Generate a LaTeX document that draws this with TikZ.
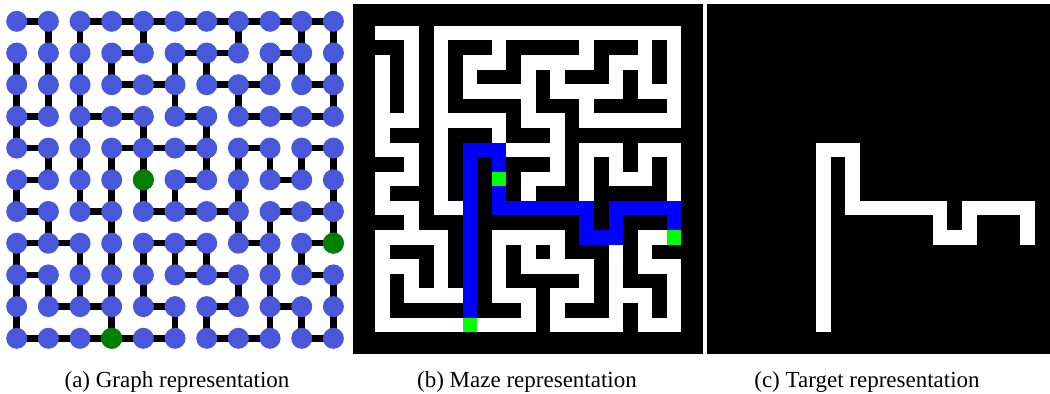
\documentclass[tikz,border=0pt]{standalone}
\usepackage{fontspec}
\setmainfont{Liberation Serif}
\usetikzlibrary{backgrounds}
\definecolor{vblue}{RGB}{73,87,219}
\definecolor{vgreen}{RGB}{0,128,0}
\definecolor{pathblue}{RGB}{0,0,255}
\definecolor{pathgreen}{RGB}{0,255,0}
\newcommand{\hlinks}{0/{0,2,3,4,5,6,7,8,9}, 1/{3,5,6,8}, 2/{3,4,6,7,9},
  3/{0,2,3,5,7,8,9}, 4/{0,3,4,5,7,9}, 5/{0,5,8}, 6/{0,2,4,5,6,8,9},
  7/{0,1,4,5,7,9}, 8/{0,5,6,9}, 9/{1,2,4,6,8}, 10/{0,1,2,3,4,6,7,9}}
\newcommand{\vlinks}{0/{1,2,4,7,9,10}, 1/{0,1,2,3,5,6,8,9,10}, 2/{0,1,2,5,7,10},
  3/{0,2,4,6}, 4/{1,2,3,4,6,7,8,9,10}, 5/{0,2,3,4,5,7,10}, 6/{1,3,7,8,10},
  7/{0,2,3,4,5,6,8,9}, 8/{0,1,2,3,4,7,8,10}, 9/{0,3,5,6,8,9,10}}
\newcommand{\route}{6/8/6/20, 6/8/8/8, 8/8/8/12, 8/12/14/12, 14/12/14/14,
  14/14/16/14, 16/12/16/14, 16/12/20/12, 20/12/20/14}

\begin{document}
\begin{tikzpicture}[x=0.5pt, y=-0.5pt,
  vertex/.style={circle, fill=vblue, inner sep=0pt, minimum size=10.5pt},
  goal/.style={vertex, fill=vgreen},
  link/.style={line width=3.25pt},
  caption/.style={anchor=base, font=\fontsize{11.5}{13}\selectfont}]

\useasboundingbox (0,0) rectangle (1050,393);

\foreach \r in {0,...,10}
  \foreach \c in {0,...,10}
    \node[vertex] (v\r-\c) at ({16.7+31.67*\c},{21.3+31.7*\r}) {};

\node[goal] (s1) at (v5-4) {};
\node[goal] (s2) at (v7-10) {};
\node[goal] (s3) at (v10-3) {};

\begin{pgfonlayer}{background}
\foreach \r/\cs in \hlinks
  \foreach \c in \cs {
    \pgfmathtruncatemacro\cc{\c+1}
    \draw[link] (v\r-\c.center) -- (v\r-\cc.center);
  }
\foreach \r/\cs in \vlinks
  \foreach \c in \cs {
    \pgfmathtruncatemacro\rr{\r+1}
    \draw[link] (v\r-\c.center) -- (v\rr-\c.center);
  }
\end{pgfonlayer}

\fill[black] (353.3,4) rectangle (702.7,354);
\begin{scope}[shift={(375.2,25.9)}, x=7.2917pt, y=-7.2917pt]
  \foreach \r in {0,...,10}
    \foreach \c in {0,...,10}
      \fill[white] (2*\c,2*\r) rectangle ++(1,1);
  \foreach \r/\cs in \hlinks
    \foreach \c in \cs
      \fill[white] (2*\c,2*\r) rectangle ++(3,1);
  \foreach \r/\cs in \vlinks
    \foreach \c in \cs
      \fill[white] (2*\c,2*\r) rectangle ++(1,3);
  \foreach \xa/\ya/\xb/\yb in \route
    \fill[pathblue] (\xa,\ya) rectangle (\xb+1,\yb+1);
  \fill[pathgreen] (8,10) rectangle ++(1,1);
  \fill[pathgreen] (20,14) rectangle ++(1,1);
  \fill[pathgreen] (6,20) rectangle ++(1,1);
\end{scope}

\fill[black] (706.7,4) rectangle (1050,354);
\begin{scope}[shift={(728.6,25.9)}, x=7.2917pt, y=-7.2917pt]
  \foreach \xa/\ya/\xb/\yb in \route
    \fill[white] (\xa,\ya) rectangle (\xb+1,\yb+1);
\end{scope}

\node[caption] (capa) at (177,387) {(a) Graph representation};
\node[caption] (capb) at (527,387) {(b) Maze representation};
\node[caption] (capc) at (867,387) {(c) Target representation};
\end{tikzpicture}
\end{document}
